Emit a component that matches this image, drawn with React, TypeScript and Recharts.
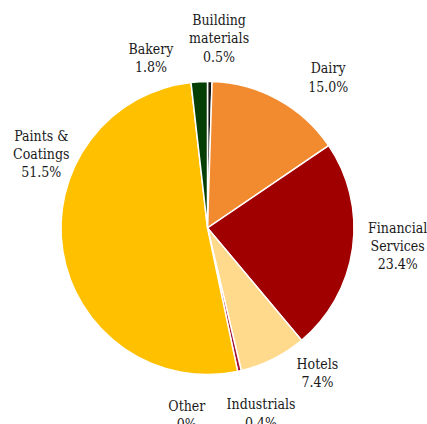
import React from "react";
import { PieChart, Pie, Cell } from "recharts";

const categories = [
  "Building materials",
  "Dairy",
  "Financial Services",
  "Hotels",
  "Industrials",
  "Other",
  "Paints & Coatings",
  "Bakery",
];
const labelLines = [
  ["Building", "materials"],
  ["Dairy"],
  ["Financial", "Services"],
  ["Hotels"],
  ["Industrials"],
  ["Other"],
  ["Paints &", "Coatings"],
  ["Bakery"],
];
const shares = [0.5, 15.0, 23.4, 7.4, 0.4, 0, 51.5, 1.8];
const colors = ["#141414", "#F28A30", "#A00000", "#FFD98C", "#A01232", "#808080", "#FFC000", "#053F05"];

// label placement tweaks (degrees clockwise, radius in px)
const labelAngleShift = [2.6, 9.9, -2.5, -10.5, -3.5, 18.2, 33.2, -15.2];
const labelRadius = [190, 193, 191, 182, 193, 188, 182, 179];

const data = categories.map((name, i) => ({ name, value: shares[i] }));

const CX = 207.5;
const CY = 228;
const FS = 14;
const LH = 18.4;
const RAD = Math.PI / 180;
const FONT = '"DejaVu Serif Condensed", "DejaVu Serif", serif';

const fmt = (v: number) => (v === 0 ? "0%" : v.toFixed(1) + "%");

const renderLabel = (props: any) => {
  const { midAngle, index, cx, cy } = props;
  const ang = midAngle - labelAngleShift[index];
  const r = labelRadius[index];
  const x = cx + r * Math.cos(-ang * RAD);
  const y = cy + r * Math.sin(-ang * RAD);
  const lines = [...labelLines[index], fmt(shares[index])];
  const y0 = y - ((lines.length - 1) * LH) / 2 + FS * 0.36;
  return (
    <text
      key={"lbl" + index}
      x={x}
      y={y0}
      textAnchor="middle"
      fill="#1a1a1a"
      fontFamily={FONT}
      fontSize={FS}
    >
      {lines.map((l, k) => (
        <tspan key={k} x={x} dy={k === 0 ? 0 : LH}>
          {l}
        </tspan>
      ))}
    </text>
  );
};

export default function App() {
  return (
    <div style={{ position: "absolute", left: 0, top: 0 }}>
      <PieChart width={427} height={424} margin={{ top: 0, right: 0, bottom: 0, left: 0 }}>
        <Pie
          data={data}
          dataKey="value"
          nameKey="name"
          cx={CX}
          cy={CY}
          outerRadius={146.5}
          innerRadius={0}
          startAngle={90}
          endAngle={-270}
          stroke="#ffffff"
          strokeWidth={1.5}
          label={renderLabel}
          labelLine={false}
          isAnimationActive={false}
        >
          {data.map((d, i) => (
            <Cell key={d.name} fill={colors[i]} />
          ))}
        </Pie>
      </PieChart>
    </div>
  );
}
